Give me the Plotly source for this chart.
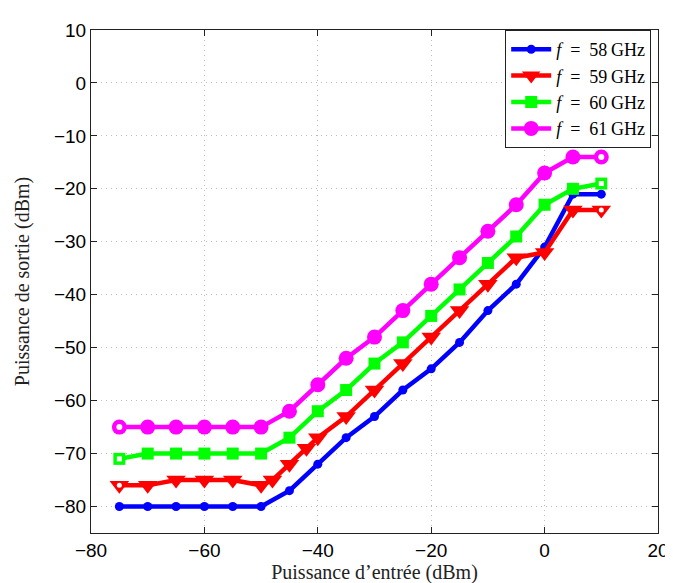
import plotly.graph_objects as go

x_common = [-75, -70, -65, -60, -55, -50, -45, -40, -35, -30, -25, -20, -15, -10, -5, 0, 5, 10]
y58 = [-80, -80, -80, -80, -80, -80, -77, -72, -67, -63, -58, -54, -49, -43, -38, -31, -21, -21]
x59 = [-75, -70, -65, -60, -55, -50, -48, -45, -42, -40, -35, -30, -25, -20, -15, -10, -5, 0, 5, 10]
y59 = [-76, -76, -75, -75, -75, -76, -75, -72, -69, -67, -63, -58, -53, -48, -43, -38, -33, -32, -24, -24]
y60 = [-71, -70, -70, -70, -70, -70, -67, -62, -58, -53, -49, -44, -39, -34, -29, -23, -20, -19]
y61 = [-65, -65, -65, -65, -65, -65, -62, -57, -52, -48, -43, -38, -33, -28, -23, -17, -14, -14]

sp = "\u2002"
names = [f"<i>f</i>{sp}={sp}58\u2009GHz", f"<i>f</i>{sp}={sp}59\u2009GHz",
         f"<i>f</i>{sp}={sp}60\u2009GHz", f"<i>f</i>{sp}={sp}61\u2009GHz"]
colors = ["#0000ff", "#ff0000", "#00ff00", "#ff00ff"]

fig = go.Figure()

specs = [
    (x_common, y58, "circle", 9, 0),
    (x59, y59, "triangle-down", 17, 5),
    (x_common, y60, "square", 12, 5),
    (x_common, y61, "circle", 15, 6),
]

for (xs, ys, sym, size, hole), name, col in zip(specs, names, colors):
    fig.add_trace(go.Scatter(
        x=xs, y=ys, mode="lines+markers", name=name,
        line=dict(color=col, width=4.5),
        marker=dict(symbol=sym, size=size, color=col, line=dict(width=0)),
    ))

# small hollow centres at the end markers (as in the reference rendering)
for (xs, ys, sym, size, hole), col in zip(specs, colors):
    if hole:
        fig.add_trace(go.Scatter(
            x=[xs[0], xs[-1]], y=[ys[0], ys[-1]], mode="markers", showlegend=False,
            hoverinfo="skip",
            marker=dict(symbol="circle" if sym != "square" else "square",
                        size=hole, color="white", line=dict(width=0)),
        ))

axis_common = dict(
    showline=True, linecolor="#222222", linewidth=1, mirror="ticks",
    ticks="inside", ticklen=6, tickcolor="#222222",
    showgrid=True, gridcolor="#bdbdbd", griddash="1px,4px", gridwidth=1,
    zeroline=False,
    tickfont=dict(family="Liberation Sans, Arial", size=19, color="black"),
)

fig.update_xaxes(range=[-80, 20], tickvals=[-80, -60, -40, -20, 0, 20],
                 ticktext=["\u221280", "\u221260", "\u221240", "\u221220", "0", "20"],
                 title=dict(text="Puissance d\u2019entr\u00e9e (dBm)",
                            font=dict(family="Liberation Serif, DejaVu Serif", size=20, color="#222"),
                            standoff=4),
                 **axis_common)
yt = [-80, -70, -60, -50, -40, -30, -20, -10, 0, 10]
fig.update_yaxes(range=[-85, 10], tickvals=yt,
                 ticktext=[("\u2212" + str(-v)) if v < 0 else str(v) for v in yt],
                 title=dict(text="Puissance de sortie (dBm)",
                            font=dict(family="Liberation Serif, DejaVu Serif", size=20, color="#222"),
                            standoff=18),
                 **axis_common)

fig.update_layout(
    width=673, height=583,
    margin=dict(l=83, r=16, t=18, b=53),
    paper_bgcolor="white", plot_bgcolor="white",
    showlegend=True,
    legend=dict(x=0.988, y=1.0, xanchor="right", yanchor="top",
                bgcolor="white", bordercolor="#222222", borderwidth=1,
                font=dict(family="Liberation Serif, DejaVu Serif", size=18, color="black"),
                tracegroupgap=0, itemwidth=40),
)

fig.write_html("out.html")
